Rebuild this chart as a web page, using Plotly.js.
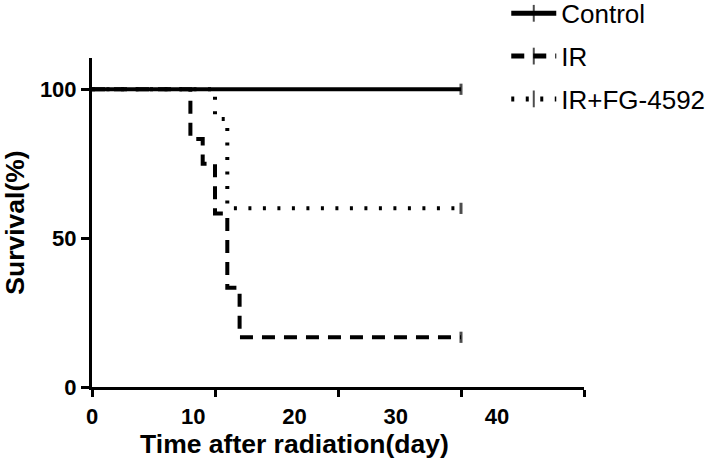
<!DOCTYPE html>
<html>
<head>
<meta charset="utf-8">
<script src="https://cdn.plot.ly/plotly-3.0.1.min.js"></script>
<style>
  body { margin: 0; background: #fff; }
  #chart { width: 709px; height: 472px; }
</style>
</head>
<body>
<div id="chart"></div>
<script>
// survival data (days, %)
var group_names = ['Control', 'IR', 'IR+FG-4592'];
var control_time = [0, 30];
var control_surv = [100, 100];
var ir_time = [0, 8, 9, 10, 11, 12, 30];
var ir_surv = [100, 83.3, 75, 58.3, 33.3, 16.7, 16.7];
var fg_time = [0, 10, 11, 30];
var fg_surv = [100, 90, 60, 60];
var x_ticks = [0, 10, 20, 30, 40];
var y_ticks = [0, 50, 100];

// censor tick only on the last point
function censor_sizes(arr) {
  return arr.map(function(v, i) { return i == arr.length - 1 ? 8 : 0; });
}

function km_trace(t, s, name, dash, group) {
  return {
    x: t, y: s, name: name, legendgroup: group,
    type: 'scatter', mode: 'lines+markers',
    line: { shape: 'hv', color: 'black', width: 4, dash: dash },
    marker: { symbol: 'line-ns-open', size: censor_sizes(t), color: 'black',
              line: { color: 'black', width: 3 } },
    hoverinfo: 'x+y'
  };
}

var data = [
  km_trace(control_time, control_surv, group_names[0], 'solid', 'a'),
  km_trace(ir_time, ir_surv, group_names[1], '13px,9px', 'b'),
  km_trace(fg_time, fg_surv, group_names[2], '3px,11.5px', 'c'),
  // holder for the label axis
  { x: [], y: [], xaxis: 'x2', yaxis: 'y', type: 'scatter', showlegend: false, hoverinfo: 'skip' }
];

var tick_font = { family: 'Liberation Sans, Arial, sans-serif', size: 22, color: 'black', weight: 'bold' };
var title_font = { family: 'Liberation Sans, Arial, sans-serif', size: 26.5, color: 'black', weight: 'bold' };

var layout = {
  width: 709,
  height: 472,
  margin: { l: 92, r: 125, t: 58, b: 85, autoexpand: false },
  paper_bgcolor: 'white',
  plot_bgcolor: 'rgba(0,0,0,0)',
  showlegend: true,
  legend: {
    x: 0.842, xanchor: 'left',
    y: 1.207, yanchor: 'top',
    traceorder: 'grouped',
    tracegroupgap: 6,
    itemsizing: 'constant',
    itemwidth: 45,
    font: { family: 'Liberation Sans, Arial, sans-serif', size: 26, color: 'black' },
    bgcolor: 'rgba(0,0,0,0)'
  },
  xaxis: {
    range: [0, 40],
    domain: [0, 1],
    showgrid: false,
    zeroline: false,
    showline: true,
    linecolor: 'black',
    linewidth: 3,
    ticks: 'outside',
    ticklen: 7,
    tickwidth: 3,
    tickcolor: 'black',
    tickvals: x_ticks,
    showticklabels: false,
    anchor: 'y'
  },
  xaxis2: {
    range: [0, 40],
    domain: [0, 0.823],
    anchor: 'y',
    showgrid: false,
    zeroline: false,
    showline: false,
    ticks: '',
    tickvals: x_ticks,
    tickfont: tick_font,
    ticklabelstandoff: 14,
    title: { text: 'Time after radiation(day)', font: title_font, standoff: 6 }
  },
  yaxis: {
    range: [0, 110.5],
    showgrid: false,
    zeroline: false,
    showline: true,
    linecolor: 'black',
    linewidth: 3,
    ticks: 'outside',
    ticklen: 8,
    tickwidth: 3,
    tickcolor: 'black',
    tickvals: y_ticks,
    tickfont: tick_font,
    anchor: 'x',
    title: { text: 'Survival(%)', font: title_font, standoff: 14 }
  }
};

Plotly.newPlot('chart', data, layout, { displayModeBar: false, staticPlot: true });
</script>
</body>
</html>
